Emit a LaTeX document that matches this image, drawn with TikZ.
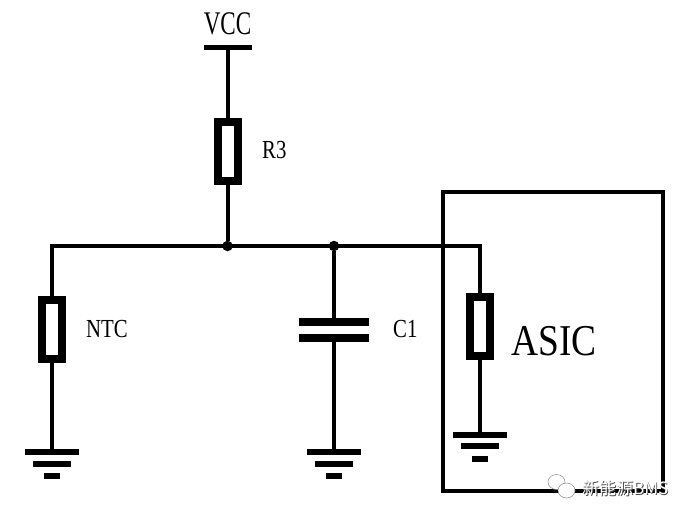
\documentclass[tikz,border=0pt]{standalone}
\usepackage{fontspec}
\setmainfont{Liberation Serif}
\newfontfamily\labelfont[FakeStretch=0.8]{Liberation Serif}
\newfontfamily\vccfont[FakeStretch=0.7]{Liberation Serif}
\newfontfamily\asicfont[FakeStretch=0.85]{Liberation Serif}
\newfontfamily\markfont{Noto Sans CJK SC}
\usetikzlibrary{positioning}

\begin{document}
\begin{tikzpicture}[x=1pt,y=-1pt]

    % Define styles
    \tikzset{
        wire/.style={line width=4pt, draw=black},
        resistor/.style={draw=black, line width=8pt, fill=white, rectangle, minimum width=20pt, minimum height=59pt, inner sep=0pt},
        bar/.style={fill=black, rectangle, inner sep=0pt, outer sep=0pt, minimum height=#1},
        bar/.default=6pt,
        junction/.style={fill=black, circle, inner sep=0pt, outer sep=0pt, minimum size=10.5pt},
        part label/.style={font=\labelfont\fontsize{26}{26}\selectfont, text=black, inner sep=0pt},
        mark text/.style={font=\markfont\fontsize{17}{17}\selectfont, inner sep=0pt, anchor=west},
        bubble/.style={draw=black!45, fill=white, line width=0.5pt}
    }

    % Fix the page
    \useasboundingbox (0,0) rectangle (690,519);
    \fill[white] (0,0) rectangle (690,519);

    % Define coordinates for the corners of the main wire
    \coordinate (wire-l) at (52,246);
    \coordinate (wire-r) at (480,246);

    % Draw the ASIC box
    \draw[wire] (443,192) rectangle (663,491);

    % Supply bar and junctions
    \node[bar=5pt, minimum width=48pt] (vcc) at (227.5,48) {};
    \node[junction] (j-r3) at (227.5,246) {};
    \node[junction] (j-c1) at (334,246) {};

    % Resistors
    \node[resistor] (r3) at (227.5,151) {};
    \node[resistor] (ntc) at (52,329) {};
    \node[resistor] (rasic) at (480,326.5) {};

    % Capacitor plates
    \node[bar=8pt, minimum width=70pt] (c1-top) at (334,322) {};
    \node[bar=8pt, minimum width=70pt] (c1-bot) at (334,338) {};

    % Grounds
    \foreach \gname/\gx/\gy in {ntc/52/452, c1/334/452, asic/480/434.5} {
        \node[bar, minimum width=54pt] (gnd-\gname) at (\gx,\gy) {};
        \node[bar, minimum width=38pt] at (\gx,\gy+11.5) {};
        \node[bar, minimum width=16pt] at (\gx,\gy+24) {};
    }

    % Draw the wires
    \draw[wire] (vcc) -- (r3);
    \draw[wire] (r3) -- (j-r3);
    \draw[wire, line cap=rect] (wire-l) -- (j-r3) -- (j-c1) -- (wire-r);
    \draw[wire] (wire-l) -- (ntc);
    \draw[wire] (wire-r) -- (rasic);
    \draw[wire] (j-c1) -- (c1-top);
    \draw[wire] (c1-bot) -- (gnd-c1);
    \draw[wire] (ntc) -- (gnd-ntc);
    \draw[wire] (rasic) -- (gnd-asic);

    % Label the parts
    \node[part label, font=\vccfont\fontsize{33}{33}\selectfont] (vcc-label) at (227.5,24) {VCC};
    \node[part label, anchor=west] (r3-label) at (262,150) {R3};
    \node[part label, anchor=west] (ntc-label) at (86,329) {NTC};
    \node[part label, anchor=west] (c1-label) at (393,329) {C1};
    \node[part label, anchor=west, font=\asicfont\fontsize{44}{44}\selectfont] (asic-label) at (511,341) {ASIC};

    % Watermark
    \draw[bubble] (556.5,482) ellipse (8.5 and 7.5);
    \draw[bubble] (566.5,490.5) ellipse (8.5 and 7.5);
    \node[mark text, text=black!70] (mark-shadow) at (582.8,488.8) {新能源BMS};
    \node[mark text, text=white] (mark) at (582,488) {新能源BMS};

\end{tikzpicture}
\end{document}
